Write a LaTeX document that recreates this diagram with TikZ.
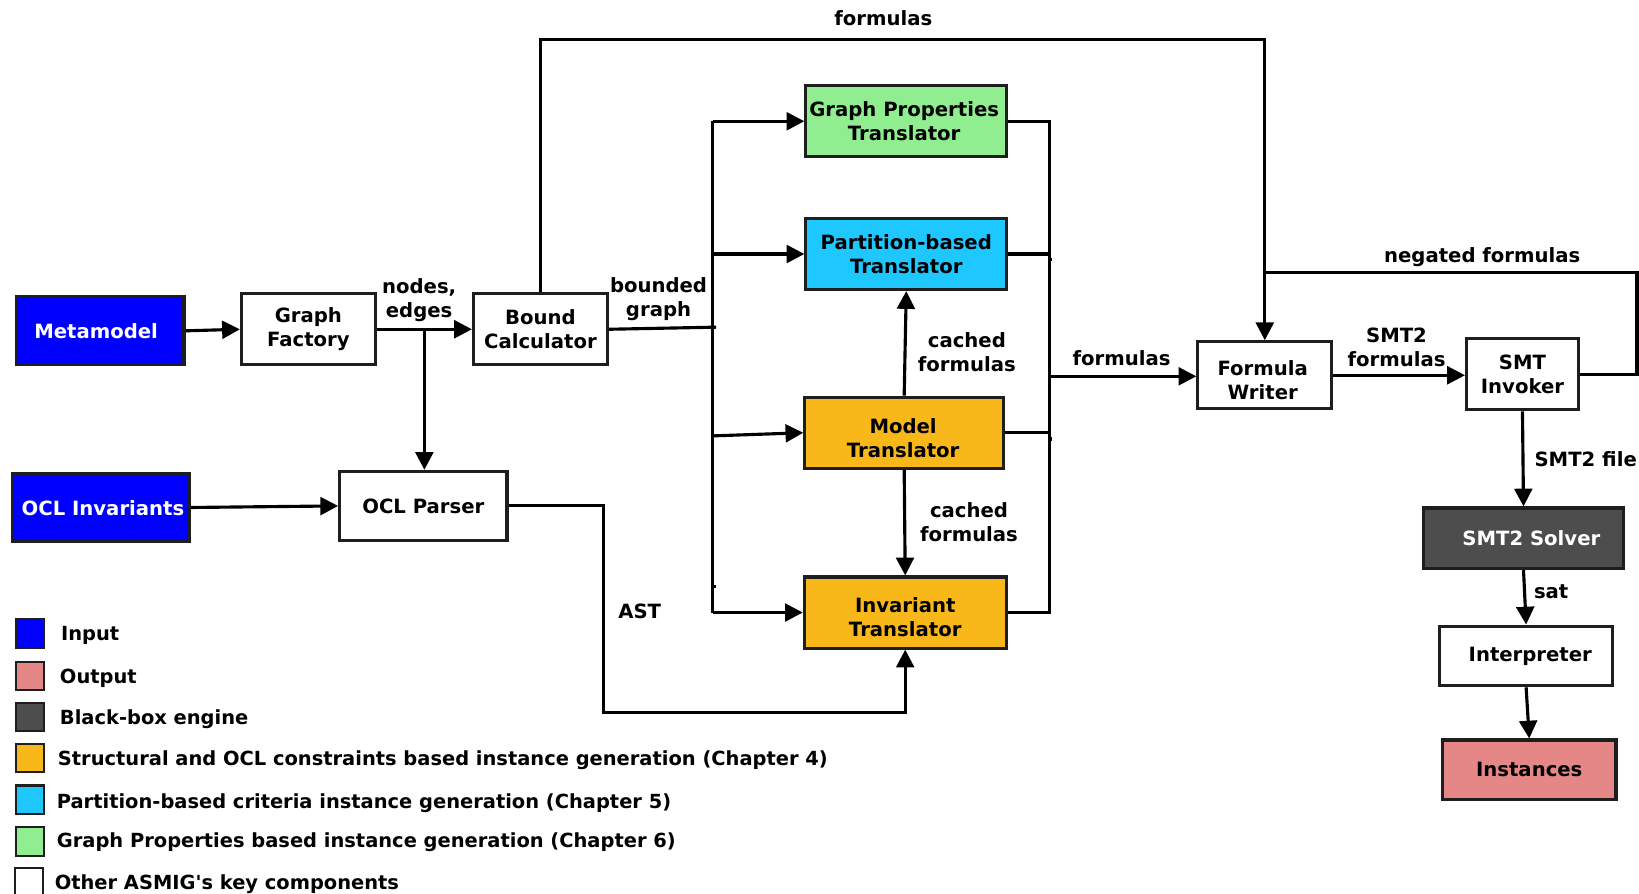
\documentclass[tikz,border=0pt]{standalone}
\usepackage{fontspec}
\setmainfont{DejaVu Sans}[Ligatures=TeXOff]
\usetikzlibrary{arrows.meta}

\definecolor{inblue}{RGB}{0,0,255}
\definecolor{outpink}{RGB}{230,135,135}
\definecolor{engine}{RGB}{77,77,77}
\definecolor{chfour}{RGB}{248,184,26}
\definecolor{chfive}{RGB}{30,200,255}
\definecolor{chsix}{RGB}{144,238,144}
\definecolor{edge}{RGB}{30,30,30}

\tikzset{
  every node/.style={font=\bfseries\fontsize{9.4}{11.5}\selectfont},
  box/.style={draw=edge, line width=1.5pt, align=center, inner sep=0pt},
  boxtx/.style={align=center, inner sep=0pt},
  lbl/.style={align=center, inner sep=0pt},
  arr/.style={line width=1.5pt, -{Triangle[length=8.5pt,width=8.5pt]}},
  wire/.style={line width=1.5pt},
  legsq/.style={draw=edge, line width=1pt, minimum width=13.5pt, minimum height=13.5pt, inner sep=0pt},
  legtx/.style={anchor=west, inner sep=0pt, font=\bfseries\fontsize{9.3}{11.5}\selectfont}
}

\begin{document}
\begin{tikzpicture}[x=0.5pt, y=-0.5pt]
\useasboundingbox[fill=white] (0,0) rectangle (1568,855);

% components
\node[box, fill=inblue, minimum width=80pt, minimum height=32.5pt] (meta) at (96,316.5) {};
\node[boxtx, text=white] (metatx) at (92,317) {Metamodel};
\node[box, fill=white, minimum width=64pt, minimum height=34pt] (gf) at (295,315) {Graph\\Factory};
\node[box, fill=white, minimum width=64pt, minimum height=34pt] (bc) at (517,315) {Bound\\Calculator};
\node[box, fill=inblue, minimum width=84.5pt, minimum height=32.5pt] (ocl) at (96.5,485.5) {};
\node[boxtx, text=white] (ocltx) at (98.5,486) {OCL Invariants};
\node[box, fill=white, minimum width=80pt, minimum height=33pt] (parser) at (405,484) {OCL Parser};
\node[box, fill=chsix, minimum width=96pt, minimum height=34pt] (gpt) at (867,116) {};
\node[boxtx] (gpttx) at (865,116) {Graph Properties\\Translator};
\node[box, fill=chfive, minimum width=96pt, minimum height=34pt] (pbt) at (867,243) {Partition-based\\Translator};
\node[box, fill=chfour, minimum width=95pt, minimum height=34pt] (mt) at (865,414) {};
\node[boxtx] (mttx) at (864,419) {Model\\Translator};
\node[box, fill=chfour, minimum width=96.5pt, minimum height=34pt] (it) at (866,586) {};
\node[boxtx] (ittx) at (866,590.5) {Invariant\\Translator};
\node[box, fill=white, minimum width=64pt, minimum height=32pt] (fw) at (1210,359) {};
\node[boxtx] (fwtx) at (1208,363.5) {Formula\\Writer};
\node[box, fill=white, minimum width=53.5pt, minimum height=34pt] (smt) at (1456.5,358) {SMT\\Invoker};
\node[box, fill=engine, minimum width=95.5pt, minimum height=29pt] (solver) at (1457.5,515) {};
\node[boxtx, text=white] (solvertx) at (1465,515) {SMT2 Solver};
\node[box, fill=white, minimum width=83pt, minimum height=28.5pt] (interp) at (1460,627.5) {};
\node[boxtx] (interptx) at (1464,628) {Interpreter};
\node[box, fill=outpink, minimum width=83pt, minimum height=28.5pt] (inst) at (1463,736.5) {Instances};

% graph construction
\draw[arr] (meta.east) -- (gf.west);
\draw[arr] (gf.east) -- (bc.west);
\coordinate (split) at (406,315);
\draw[arr] (split) -- (split |- parser.north);
\draw[arr] (ocl.east) -- (parser.west);

% distribution bus towards the translators
\coordinate (bgEnd) at (685,313);
\coordinate (busTop) at (682,116);
\coordinate (busBot) at (682,586);
\draw[wire] (bc.east) -- (bgEnd);
\draw[wire] (busTop) -- (busBot);
\draw[arr] (busTop) -- (gpt.west);
\draw[arr] (busTop |- pbt.west) -- (pbt.west);
\draw[arr] (682,417) -- (mt.west);
\draw[arr] (busBot) -- (it.west);
\draw[wire] (682,561) -- (685,561);

% collecting bus from the translators
\coordinate (rbTop) at (1004,116);
\coordinate (rbBot) at (1004,586);
\coordinate (fout) at (1004,360);
\draw[wire] (gpt.east) -- (rbTop) -- (rbBot) -- (it.east);
\draw[wire] (pbt.east) -- (pbt.east -| rbTop);
\draw[wire] (mt.east) -- (mt.east -| rbTop);
\draw[wire] (1004,248) -- (1006,248);
\draw[wire] (1004,420) -- (1006,420);
\draw[arr] (fout) -- (fout -| fw.west);

% cached formulas between translators
\draw[arr] (mt.north) -- (pbt.south);
\draw[arr] (mt.south) -- (it.north);

% AST from the parser
\coordinate (astA) at (577,682);
\draw[arr] (parser.east) -| (astA) -| (it.south);

% direct formulas from the bound calculator
\coordinate (topR) at (1210,38);
\draw[arr] (bc.north) |- (topR) -- (fw.north);

% solving chain
\draw[arr] (fw.east) -- (fw.east -| smt.west);
\coordinate (negR) at (1566,261);
\draw[wire] (smt.east) -| (negR) -- (negR -| fw.north);
\draw[arr] (smt.south) -- (solver.north);
\draw[arr] (solver.south) -- (interp.north);
\draw[arr] (interp.south) -- (inst.north);

% connector labels
\node[lbl] (lformtop) at (845,17) {formulas};
\node[lbl] (lnodes) at (401,287.5) {nodes,\\edges};
\node[lbl] (lbound) at (630,286.5) {bounded\\graph};
\node[lbl] (lcache1) at (925,337) {cached\\formulas};
\node[lbl] (lcache2) at (927,500) {cached\\formulas};
\node[lbl] (lform) at (1073,343) {formulas};
\node[lbl] (lsmtf) at (1336,332.5) {SMT2\\formulas};
\node[lbl] (lneg) at (1418,246) {negated formulas};
\node[lbl] (lfile) at (1517,439) {SMT2 file};
\node[lbl] (lsat) at (1484,566) {sat};
\node[lbl] (last) at (612,585) {AST};

% legend
\node[legsq, fill=inblue] (k1) at (29,606) {};
\node[legtx] (t1) at (58,608) {Input};
\node[legsq, fill=outpink] (k2) at (29,647) {};
\node[legtx] (t2) at (57,649) {Output};
\node[legsq, fill=engine] (k3) at (29,686) {};
\node[legtx] (t3) at (57,688) {Black-box engine};
\node[legsq, fill=chfour] (k4) at (29,725) {};
\node[legtx] (t4) at (55,727) {Structural and OCL constraints based instance generation (Chapter 4)};
\node[legsq, fill=chfive] (k5) at (28.5,765) {};
\node[legtx] (t5) at (54,768) {Partition-based criteria instance generation (Chapter 5)};
\node[legsq, fill=chsix] (k6) at (28.5,805) {};
\node[legtx] (t6) at (54,806) {Graph Properties based instance generation (Chapter 6)};
\node[legsq, fill=white] (k7) at (28,844) {};
\node[legtx] (t7) at (52,846) {Other ASMIG's key components};
\end{tikzpicture}
\end{document}
